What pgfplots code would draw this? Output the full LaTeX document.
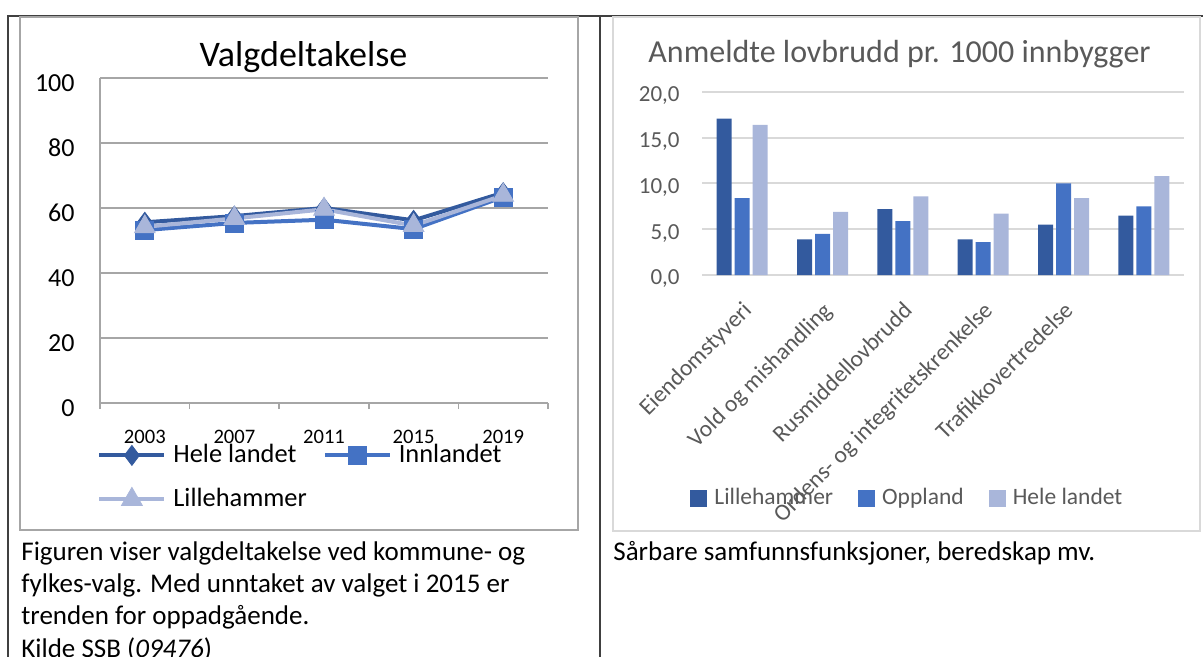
\documentclass[border=0pt]{standalone}
\usepackage{pgfplots}
\pgfplotsset{compat=1.18}
\usepackage{fontspec}
\setmainfont{Carlito}

\definecolor{hdark}{HTML}{335A9E}
\definecolor{hmid}{HTML}{4472C4}
\definecolor{hlight}{HTML}{A9B6DA}
\definecolor{txtgray}{HTML}{595959}
\definecolor{gridA}{HTML}{A6A6A6}
\definecolor{gridB}{HTML}{D9D9D9}
\definecolor{tabline}{HTML}{404040}

\pgfplotsset{barleg/.style={legend image code/.code={\fill[##1] (0pt,-4.25pt) rectangle (8.5pt,4.25pt);}}}

\begin{document}
\begin{tikzpicture}
\useasboundingbox (0pt,0pt) rectangle (601.5pt,-328.5pt);
\clip (0pt,0pt) rectangle (601.5pt,-328.5pt);

% table lines and chart frames
\draw[tabline, line width=1pt] (3.75pt,-330pt) -- (3.75pt,-8pt) -- (602pt,-8pt);
\draw[tabline, line width=1pt] (299.75pt,-8pt) -- (299.75pt,-330pt);
\draw[gridA, line width=0.6pt] (10pt,-8.5pt) rectangle (289pt,-265pt);
\draw[gridB, line width=0.75pt] (306.5pt,-8.5pt) rectangle (600pt,-265.5pt);

% left chart: Valgdeltakelse
\begin{axis}[
  at={(50pt,-201.5pt)}, anchor=south west,
  scale only axis, width=224pt, height=162.5pt,
  xmin=0.5, xmax=5.5, ymin=0, ymax=100,
  xtick={1,...,5}, xticklabels={2003,2007,2011,2015,2019},
  minor xtick={0.5,1.5,...,5.5},
  ytick={0,20,...,100},
  axis lines*=left,
  axis line style={gridA, line width=0.75pt},
  major tick length=0pt, minor tick length=3pt, tick align=outside,
  tick style={gridA, line width=0.75pt},
  ymajorgrids, major grid style={gridA, line width=0.75pt},
  /pgf/number format/assume math mode=true,
  yticklabel style={font=\fontsize{13}{15}\selectfont, anchor=east, inner sep=0pt, xshift=-12.5pt, yshift=-2.5pt},
  xticklabel style={font=\fontsize{10.3}{12}\selectfont, anchor=base, inner sep=0pt, yshift=-20pt},
  title={Valgdeltakelse},
  every axis title/.style={at={(0.4542,1.0348)}, anchor=base, font=\fontsize{18}{21}\selectfont, inner sep=0pt},
  legend columns=2, legend cell align=left,
  legend style={at={(-0.0067,-0.12)}, anchor=north west, draw=none, fill=none, inner sep=0pt,
    font=\fontsize{13.2}{15}\selectfont,
    nodes={inner sep=0pt, text height=10pt, text depth=3pt},
    column sep=3.5pt, /tikz/every even column/.append style={column sep=8pt}, row sep=9pt},
  legend image code/.code={\draw[mark repeat=2,mark phase=2,#1] plot coordinates {(0pt,0pt) (16.25pt,0pt) (32.5pt,0pt)};},
]
\addplot[hdark, line width=2pt, mark=diamond*, mark size=5pt, mark options={solid, line width=0.4pt}]
  coordinates {(1,55.6) (2,57.5) (3,60.0) (4,56.2) (5,64.7)};
\addlegendentry{Hele landet}
\addplot[hmid, line width=2pt, mark=square*, mark size=4.5pt, mark options={solid, line width=0.4pt}]
  coordinates {(1,53.2) (2,55.4) (3,56.4) (4,53.5) (5,63.4)};
\addlegendentry{Innlandet}
\addplot[hlight, line width=2pt, mark=triangle*, mark size=6pt, mark options={solid, line width=0.4pt}]
  coordinates {(1,54.2) (2,56.8) (3,59.6) (4,54.6) (5,63.9)};
\addlegendentry{Lillehammer}
\end{axis}

% right chart: Anmeldte lovbrudd
\begin{axis}[
  at={(351pt,-137.5pt)}, anchor=south west,
  scale only axis, width=241pt, height=91.5pt,
  xmin=-0.5, xmax=5.5, ymin=0, ymax=20,
  ybar, bar width=7.5pt, ybar=1.5pt,
  xtick={0,...,4},
  xticklabels={Eiendomstyveri, Vold og mishandling, Rusmiddellovbrudd, Ordens- og integritetskrenkelse, Trafikkovertredelse},
  ytick={0,5,...,20},
  axis line style={draw=none},
  major tick length=0pt,
  ymajorgrids, major grid style={gridB, line width=1pt},
  /pgf/number format/assume math mode=true,
  yticklabel style={font=\fontsize{11.5}{14}\selectfont, color=txtgray, anchor=east, inner sep=0pt, xshift=-11pt, yshift=-2pt,
    /pgf/number format/.cd, fixed, fixed zerofill, precision=1, use comma},
  xticklabel style={font=\fontsize{11.75}{14}\selectfont, color=txtgray, inner sep=0pt, xshift=-0.5pt, yshift=-12.5pt, rotate=45, anchor=north east},
  title={Anmeldte lovbrudd pr. 1000 innbygger},
  every axis title/.style={at={(0.4098,1.1639)}, anchor=base, font=\fontsize{16}{19}\selectfont, color=txtgray, inner sep=0pt},
  legend columns=3, legend cell align=left,
  legend style={at={(-0.0249,-1.2186)}, anchor=west, draw=none, fill=none, inner sep=0pt,
    font=\fontsize{11.75}{14}\selectfont, text=txtgray,
    nodes={inner sep=0pt, text height=8.5pt, text depth=2.5pt},
    column sep=3.5pt, /tikz/every even column/.append style={column sep=12.5pt}},
]
\addplot[fill=hdark, draw=none, barleg] coordinates {(0,17.1) (1,3.9) (2,7.2) (3,3.9) (4,5.5) (5,6.5)};
\addlegendentry{Lillehammer}
\addplot[fill=hmid, draw=none, barleg] coordinates {(0,8.4) (1,4.5) (2,5.9) (3,3.6) (4,10.0) (5,7.5)};
\addlegendentry{Oppland}
\addplot[fill=hlight, draw=none, barleg] coordinates {(0,16.4) (1,6.9) (2,8.6) (3,6.7) (4,8.4) (5,10.8)};
\addlegendentry{Hele landet}
\end{axis}

% text below the charts
\begin{scope}[every node/.style={anchor=base west, inner sep=0pt, font=\fontsize{13.5}{16}\selectfont}]
\node at (10.5pt,-280pt) {Figuren viser valgdeltakelse ved kommune- og};
\node at (10.5pt,-296pt) {fylkes-valg. Med unntaket av valget i 2015 er};
\node at (10.5pt,-312pt) {trenden for oppadgående.};
\node at (10.5pt,-328.5pt) {Kilde SSB (\textit{09476})};
\node at (306.5pt,-280pt) {Sårbare samfunnsfunksjoner, beredskap mv.};
\end{scope}
\end{tikzpicture}
\end{document}
